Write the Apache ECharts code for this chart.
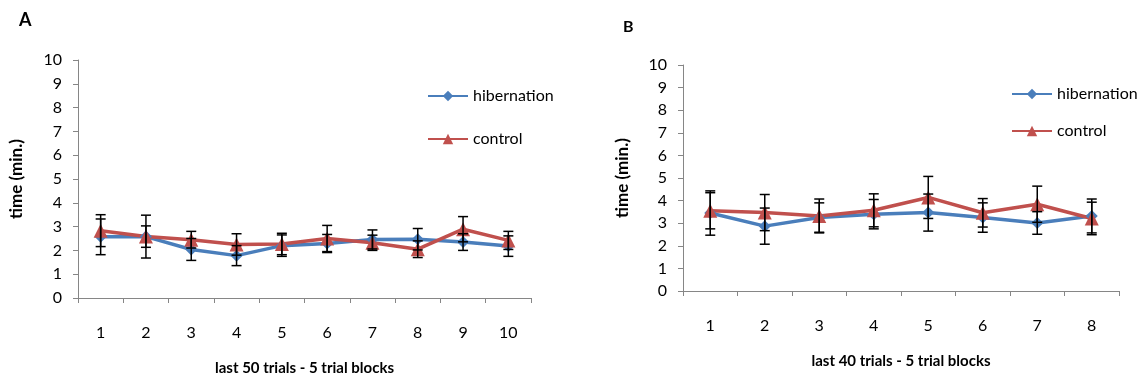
<!DOCTYPE html>
<html>
<head>
<meta charset="utf-8">
<script src="https://cdn.jsdelivr.net/npm/echarts@6/dist/echarts.min.js"></script>
<style>
  html, body { margin: 0; padding: 0; background: #fff; }
  #chart { width: 1143px; height: 381px; }
</style>
</head>
<body>
<div id="chart"></div>
<script>
// panel A: last 50 trials, 10 blocks
const blocksA = ["1", "2", "3", "4", "5", "6", "7", "8", "9", "10"];
const hibA = [2.57, 2.58, 2.04, 1.78, 2.2, 2.29, 2.46, 2.47, 2.35, 2.18];
const hibAErr = [0.75, 0.9, 0.46, 0.42, 0.45, 0.38, 0.4, 0.45, 0.35, 0.43];
const ctlA = [2.83, 2.58, 2.45, 2.25, 2.27, 2.5, 2.32, 2.05, 2.89, 2.42];
const ctlAErr = [0.67, 0.45, 0.35, 0.45, 0.45, 0.55, 0.32, 0.35, 0.53, 0.38];

// panel B: last 40 trials, 8 blocks
const blocksB = ["1", "2", "3", "4", "5", "6", "7", "8"];
const hibB = [3.45, 2.87, 3.25, 3.4, 3.47, 3.25, 3.01, 3.32];
const hibBErr = [0.98, 0.8, 0.65, 0.65, 0.82, 0.65, 0.5, 0.75];
const ctlB = [3.55, 3.47, 3.32, 3.57, 4.14, 3.46, 3.84, 3.21];
const ctlBErr = [0.8, 0.8, 0.75, 0.73, 0.93, 0.63, 0.8, 0.72];

const yTicks = [0, 10, 1]; // min, max, interval

const BLUE = "#4a7ebb";
const RED = "#c0504d";
const FONT = "Lato, 'Open Sans', sans-serif";

function errData(vals, errs) {
  return vals.map((v, i) => [i, v - errs[i], v + errs[i]]);
}

function renderErr(params, api) {
  const x = api.value(0);
  const lo = api.coord([x, api.value(1)]);
  const hi = api.coord([x, api.value(2)]);
  const w = 5;
  const style = { stroke: "#000", lineWidth: 1.5 };
  return {
    type: "group",
    children: [
      { type: "line", shape: { x1: lo[0], y1: lo[1], x2: hi[0], y2: hi[1] }, style },
      { type: "line", shape: { x1: hi[0] - w, y1: hi[1], x2: hi[0] + w, y2: hi[1] }, style },
      { type: "line", shape: { x1: lo[0] - w, y1: lo[1], x2: lo[0] + w, y2: lo[1] }, style },
    ],
  };
}

function xAxisOf(data, idx, name) {
  return {
    type: "category",
    gridIndex: idx,
    data: data,
    name: name,
    nameLocation: "middle",
    nameGap: 63,
    nameTextStyle: { fontFamily: FONT, fontWeight: "bold", fontSize: 15, color: "#000" },
    axisLine: { lineStyle: { color: "#868686", width: 1 } },
    axisTick: { show: true, length: 5, alignWithLabel: false, lineStyle: { color: "#868686" } },
    axisLabel: { margin: 27, fontFamily: FONT, fontSize: 16, color: "#000" },
  };
}

function yAxisOf(idx, gap) {
  return {
    type: "value",
    gridIndex: idx,
    min: yTicks[0],
    max: yTicks[1],
    interval: yTicks[2],
    name: "time (min.)",
    nameLocation: "middle",
    nameGap: gap,
    nameTextStyle: { fontFamily: FONT, fontWeight: "bold", fontSize: 17, color: "#000" },
    splitLine: { show: false },
    axisLine: { show: true, lineStyle: { color: "#868686", width: 1 } },
    axisTick: { show: true, length: 5, lineStyle: { color: "#868686" } },
    axisLabel: { margin: 16, fontFamily: FONT, fontSize: 16, color: "#000" },
  };
}

function lineSeries(name, data, idx, color, symbol, size) {
  return {
    name: name,
    type: "line",
    xAxisIndex: idx,
    yAxisIndex: idx,
    data: data,
    symbol: symbol,
    symbolSize: size,
    showAllSymbol: true,
    lineStyle: { color: color, width: 3.5 },
    itemStyle: { color: color },
    z: 3,
  };
}

function errSeries(data, idx) {
  return {
    type: "custom",
    xAxisIndex: idx,
    yAxisIndex: idx,
    data: data,
    renderItem: renderErr,
    silent: true,
    z: 4,
  };
}

function legendOf(left, top, gap) {
  return {
    orient: "vertical",
    left: left,
    top: top,
    itemGap: gap,
    itemWidth: 40,
    itemHeight: 13,
    data: ["hibernation", "control"],
    textStyle: { fontFamily: FONT, fontSize: 16, color: "#000" },
  };
}

const chart = echarts.init(document.getElementById("chart"));
const option = {
  animation: false,
  title: [
    { text: "A", left: 14, top: 6, textStyle: { fontFamily: FONT, fontSize: 18, fontWeight: "bold", color: "#000" } },
    { text: "B", left: 618, top: 14, textStyle: { fontFamily: FONT, fontSize: 16, fontWeight: "bold", color: "#000" } },
  ],
  legend: [legendOf(422, 83, 27), legendOf(1006, 81, 21)],
  grid: [
    { left: 78, top: 60, width: 453, height: 240 },
    { left: 683, top: 65, width: 436, height: 226 },
  ],
  xAxis: [
    xAxisOf(blocksA, 0, "last 50 trials - 5 trial blocks"),
    xAxisOf(blocksB, 1, "last 40 trials - 5 trial blocks"),
  ],
  yAxis: [yAxisOf(0, 53), yAxisOf(1, 52)],
  series: [
    lineSeries("hibernation", hibA, 0, BLUE, "diamond", 12),
    lineSeries("control", ctlA, 0, RED, "triangle", 14),
    errSeries(errData(hibA, hibAErr), 0),
    errSeries(errData(ctlA, ctlAErr), 0),
    lineSeries("hibernation", hibB, 1, BLUE, "diamond", 12),
    lineSeries("control", ctlB, 1, RED, "triangle", 14),
    errSeries(errData(hibB, hibBErr), 1),
    errSeries(errData(ctlB, ctlBErr), 1),
  ],
};
chart.setOption(option);
window.addEventListener("resize", chart.resize);
</script>
</body>
</html>
